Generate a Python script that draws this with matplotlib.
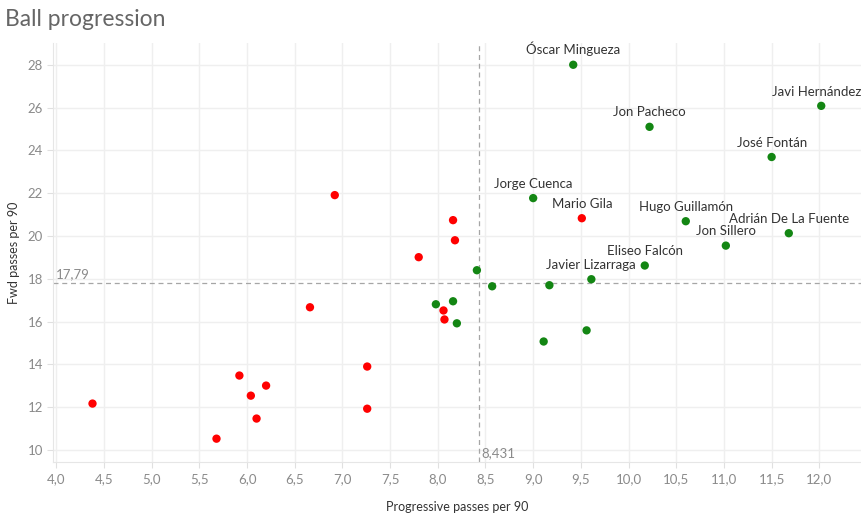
import numpy as np
import matplotlib.pyplot as plt

plt.rcParams['font.family'] = ['Lato', 'DejaVu Sans']

# progressive passes per 90 (x), forward passes per 90 (y)
names = ['Óscar Mingueza', 'Javi Hernández', 'Jon Pacheco', 'José Fontán',
         'Jorge Cuenca', 'Mario Gila', 'Hugo Guillamón', 'Adrián De La Fuente',
         'Jon Sillero', 'Eliseo Falcón', 'Javier Lizarraga']
prog = [9.42, 12.02, 10.22, 11.50, 9.00, 9.51, 10.60, 11.68, 11.02, 10.17, 9.61,
        8.41, 8.57, 9.17, 9.56, 9.11, 7.98, 8.16, 8.20,
        6.92, 8.16, 8.18, 7.80, 6.66, 8.06, 8.07, 7.26, 7.26, 5.92, 6.20, 6.04, 6.10, 5.68, 4.38]
fwd = [28.00, 26.08, 25.10, 23.69, 21.77, 20.83, 20.69, 20.13, 19.55, 18.62, 17.98,
       18.40, 17.65, 17.70, 15.59, 15.07, 16.81, 16.95, 15.92,
       21.91, 20.74, 19.80, 19.01, 16.67, 16.52, 16.10, 13.90, 11.93, 13.48, 13.01, 12.54, 11.47, 10.53, 12.17]
group = ['g', 'g', 'g', 'g', 'g', 'r', 'g', 'g', 'g', 'g', 'g',
         'g', 'g', 'g', 'g', 'g', 'g', 'g', 'g',
         'r', 'r', 'r', 'r', 'r', 'r', 'r', 'r', 'r', 'r', 'r', 'r', 'r', 'r', 'r']
names = names + [''] * (len(prog) - len(names))

avg_prog = 8.431
avg_fwd = 17.79

palette = {'g': '#138613', 'r': '#ff0000'}
colors = [palette[g] for g in group]

fig = plt.figure(figsize=(8.61, 5.19), dpi=100)
ax = fig.add_axes([0.0619, 0.1092, 0.9381, 0.8085])

ax.set_xlim(3.969, 12.437)
ax.set_ylim(9.425, 29.03)
xt = np.arange(4.0, 12.01, 0.5)
ax.set_xticks(xt)
ax.set_xticklabels([f'{v:.1f}'.replace('.', ',') for v in xt])
ax.set_yticks(np.arange(10, 29, 2))
ax.grid(True, color='#efefef', linewidth=1)
ax.set_axisbelow(True)

for s in ['top', 'right']:
    ax.spines[s].set_visible(False)
for s in ['left', 'bottom']:
    ax.spines[s].set_color('#e6e6e6')
ax.tick_params(axis='both', colors='#e0e0e0', labelcolor='#8a8a8a', labelsize=9.5, length=4)

ax.axvline(avg_prog, color='#a6a6a6', linestyle=(0, (4, 3)), linewidth=0.9, zorder=1)
ax.axhline(avg_fwd, color='#a6a6a6', linestyle=(0, (4, 3)), linewidth=0.9, zorder=1)
ax.text(4.0, avg_fwd + 0.15, '17,79', color='#8a8a8a', fontsize=9.5, va='bottom', ha='left')
ax.text(avg_prog + 0.03, 9.55, '8,431', color='#8a8a8a', fontsize=9.5, va='bottom', ha='left')

ax.scatter(prog, fwd, c=colors, s=36, zorder=3, linewidths=0)

for n, p, f in zip(names, prog, fwd):
    if n:
        if n == 'Javi Hernández':
            p -= 0.05
        ax.annotate(n, (p, f), xytext=(0, 6), textcoords='offset points',
                    ha='center', va='bottom', fontsize=9.5, color='#333333')

ax.set_xlabel('Progressive passes per 90', fontsize=9, color='#333333', labelpad=12)
ax.set_ylabel('Fwd passes per 90', fontsize=9, color='#333333', labelpad=5)

fig.text(0.006, 0.962, 'Ball progression', fontsize=16.5, color='#666666', va='center')

fig.savefig('out.png', dpi=100)
